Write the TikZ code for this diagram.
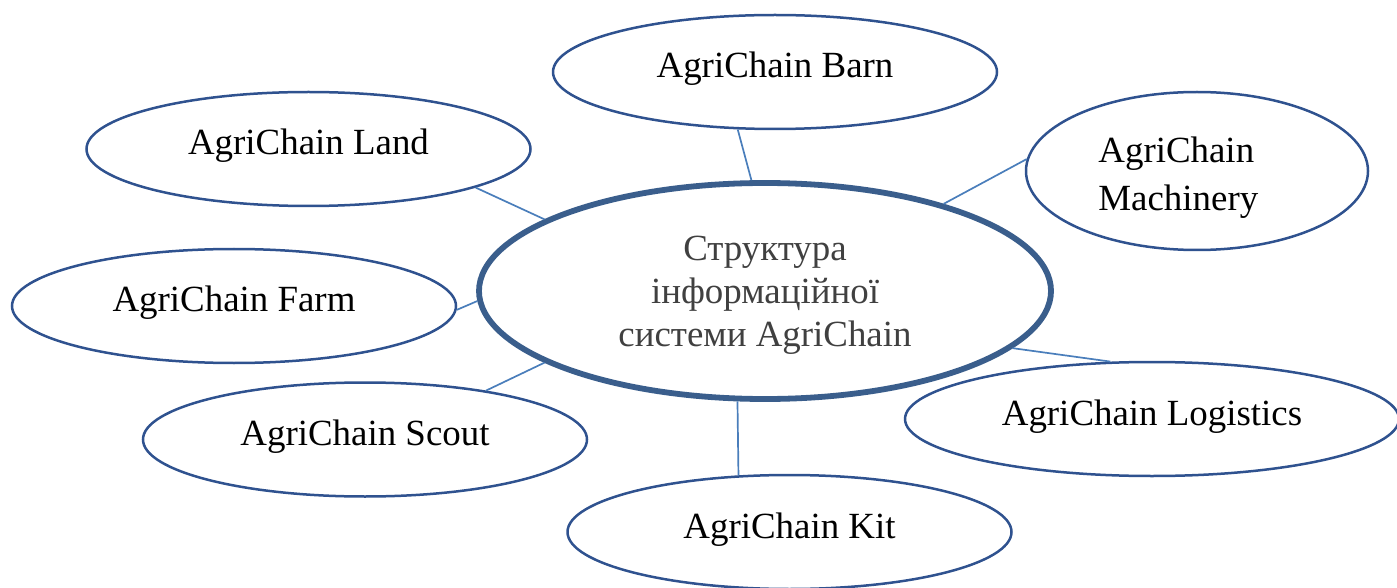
\documentclass[tikz,border=0pt]{standalone}
\usepackage{fontspec}
\setmainfont{Liberation Serif}
\usetikzlibrary{shapes.geometric}
\definecolor{ringblue}{HTML}{2F528F}
\definecolor{hubblue}{HTML}{3A5E8C}
\definecolor{linkblue}{HTML}{4A7EBB}
\definecolor{hubtext}{HTML}{404040}
\begin{document}
\begin{tikzpicture}[x=0.5pt,y=-0.5pt,
  sat/.style={ellipse,draw=ringblue,line width=1.25pt,inner sep=0pt,
    minimum width=222pt,minimum height=57pt,
    font=\fontsize{18.45}{24}\selectfont,text height=10pt,text depth=4pt},
  hub/.style={ellipse,draw=hubblue,line width=2.9pt,inner sep=0pt,
    minimum width=286pt,minimum height=108pt},
  lbl/.style={inner sep=0pt,font=\fontsize{18.45}{24}\selectfont},
  link/.style={draw=linkblue,line width=0.85pt}]
\useasboundingbox (0,0) rectangle (1397,588);

\node[hub] (c) at (765,291) {};
\node[lbl,align=center,text=hubtext,font=\fontsize{18.45}{21.5}\selectfont] (ctext) at (765,295) {Структура\\інформаційної\\системи AgriChain};
\node[sat] (barn) at (775,72) {AgriChain Barn};
\node[sat] (land) at (308.5,149) {AgriChain Land};
\node[sat,minimum width=171pt,minimum height=79pt] (mach) at (1197,171) {};
\node[lbl,align=left,anchor=west] (machtext) at (1098,177.5) {AgriChain\\Machinery};
\node[sat] (farm) at (234,306) {AgriChain Farm};
\node[sat] (scout) at (365,439.5) {AgriChain Scout};
\node[sat,minimum width=247pt] (logi) at (1152,419) {AgriChain Logistics};
\node[sat] (kit) at (789.5,532) {AgriChain Kit};

\draw[link] (barn.237.5) -- (c.97.6);
\draw[link] (land.-13.8) -- (c.162.7);
\draw[link] (mach.176.7) -- (c.26.6);
\draw[link] (farm.-1.6) -- (c.182.6);
\draw[link] (scout.22.8) -- (c.198.8);
\draw[link] (logi.126.4) -- (c.-13.3);
\draw[link] (kit.132.6) -- (c.256.4);
\end{tikzpicture}
\end{document}
